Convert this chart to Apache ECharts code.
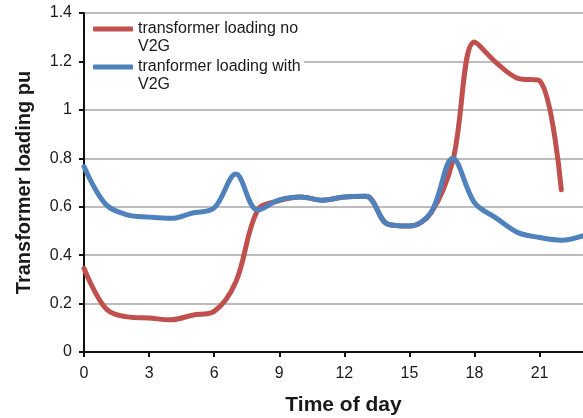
<!DOCTYPE html>
<html>
<head>
<meta charset="utf-8">
<script src="https://cdn.jsdelivr.net/npm/echarts@6/dist/echarts.min.js"></script>
<style>html,body{margin:0;padding:0;background:#fff;}#c{width:583px;height:418px;}</style>
</head>
<body>
<div id="c"></div>
<script>
const hoursNoV2G = [0,1,2,3,4,5,6,7,8,9,10,11,12,13,14,15,16,17,18,19,20,21,22];
const loadingNoV2G = [0.345,0.18,0.145,0.14,0.133,0.152,0.168,0.29,0.585,0.625,0.64,0.627,0.64,0.643,0.528,0.52,0.575,0.79,1.28,1.195,1.13,1.12,0.67];
const hoursWithV2G = [0,1,2,3,4,5,6,7,8,9,10,11,12,13,14,15,16,17,18,19,20,21,22,23];
const loadingWithV2G = [0.766,0.61,0.566,0.557,0.552,0.574,0.595,0.735,0.586,0.628,0.64,0.627,0.64,0.643,0.528,0.52,0.578,0.80,0.616,0.553,0.493,0.473,0.462,0.48];
const seriesNames = ['transformer loading no\nV2G', 'tranformer loading with\nV2G'];
const xTitle = 'Time of day';
const yTitle = 'Transformer loading pu';

const font = '"Liberation Sans", Arial, Helvetica, sans-serif';
const chart = echarts.init(document.getElementById('c'), null, {renderer: 'canvas'});
const legendText = {fontFamily: font, fontSize: 16, lineHeight: 18, color: '#1a1a1a'};
chart.setOption({
  animation: false,
  backgroundColor: '#fff',
  grid: {left: 84, right: 0, top: 13, bottom: 66, containLabel: false, outerBoundsMode: 'none'},
  graphic: [{type: 'rect', z: 1, silent: true, shape: {x: 85, y: 17, width: 219, height: 84}, style: {fill: '#fff'}}],
  legend: [
    {data: [seriesNames[0]], left: 93, top: 2, padding: 0, icon: 'roundRect', itemWidth: 40, itemHeight: 5, textStyle: legendText, z: 5,
      formatter: n => '\n' + n},
    {data: [seriesNames[1]], left: 93, top: 40, padding: 0, icon: 'roundRect', itemWidth: 40, itemHeight: 5, textStyle: legendText, z: 5,
      formatter: n => '\n' + n}
  ],
  xAxis: {
    type: 'value', min: 0, max: 23, interval: 3,
    name: xTitle, nameLocation: 'middle', nameGap: 43,
    nameTextStyle: {fontFamily: font, fontSize: 21, fontWeight: 'bold', color: '#1a1a1a', padding: [0, 0, 0, 20]},
    axisLine: {lineStyle: {color: '#111', width: 2}},
    axisTick: {show: true, inside: false, length: 5, lineStyle: {color: '#111', width: 2}},
    axisLabel: {fontFamily: font, fontSize: 16, color: '#1a1a1a', margin: 14, showMaxLabel: false,
      formatter: v => (v % 3 === 0 ? String(v) : '')},
    splitLine: {show: false}
  },
  yAxis: {
    type: 'value', min: 0, max: 1.4, interval: 0.2,
    name: yTitle, nameLocation: 'middle', nameGap: 50,
    nameTextStyle: {fontFamily: font, fontSize: 20, fontWeight: 'bold', color: '#1a1a1a'},
    axisLine: {show: true, lineStyle: {color: '#111', width: 2}},
    axisTick: {show: true, inside: false, length: 5, lineStyle: {color: '#111', width: 2}},
    axisLabel: {fontFamily: font, fontSize: 16, color: '#1a1a1a', margin: 12},
    splitLine: {show: true, lineStyle: {color: '#a6a6a6', width: 1.5}}
  },
  series: [
    {name: seriesNames[0], type: 'line', smooth: 0.35, showSymbol: false, symbol: 'none', z: 2,
      lineStyle: {color: '#C0504D', width: 5, cap: 'round', join: 'round'}, itemStyle: {color: '#C0504D'},
      data: hoursNoV2G.map((h, i) => [h, loadingNoV2G[i]])},
    {name: seriesNames[1], type: 'line', smooth: 0.35, showSymbol: false, symbol: 'none', z: 3,
      lineStyle: {color: '#4F81BD', width: 5, cap: 'round', join: 'round'}, itemStyle: {color: '#4F81BD'},
      data: hoursWithV2G.map((h, i) => [h, loadingWithV2G[i]])}
  ]
});
</script>
</body>
</html>
